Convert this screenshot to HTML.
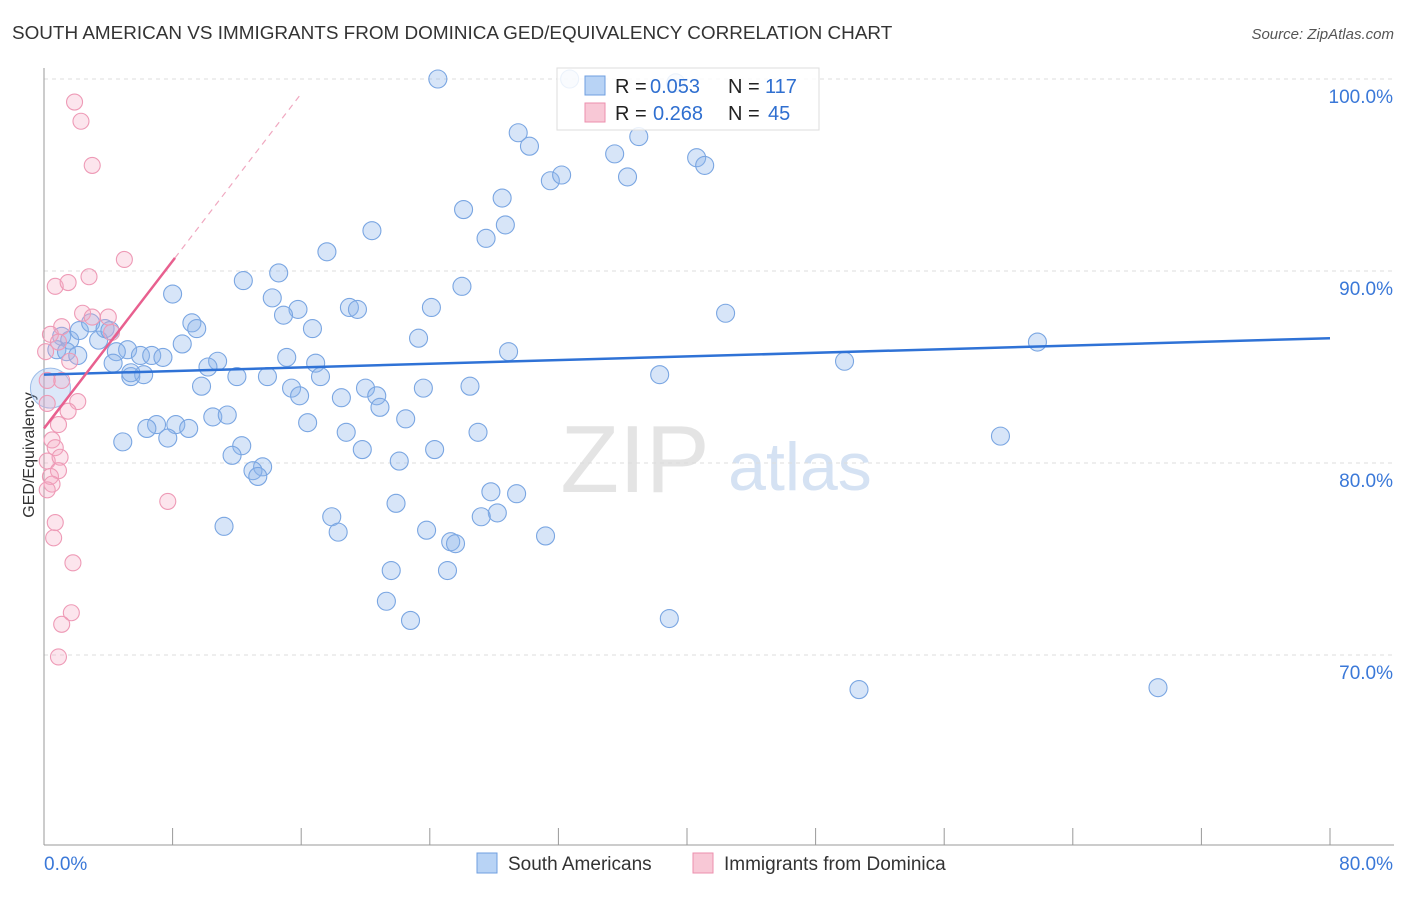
<!DOCTYPE html>
<html><head><meta charset="utf-8"><style>
body{margin:0;background:#fff;font-family:"Liberation Sans",sans-serif;}
svg text{font-family:"Liberation Sans",sans-serif;}
</style></head><body>
<svg id="chart" width="1406" height="892">
<text x="12" y="39" font-size="18.9" fill="#333">SOUTH AMERICAN VS IMMIGRANTS FROM DOMINICA GED/EQUIVALENCY CORRELATION CHART</text>
<text x="1394" y="39" font-size="15" fill="#555" font-style="italic" text-anchor="end">Source: ZipAtlas.com</text>
<text x="635" y="492" font-size="96" fill="#e4e4e4" font-family="Liberation Serif" text-anchor="middle">ZIP</text>
<text x="800" y="490" font-size="68" fill="#d5e2f3" text-anchor="middle">atlas</text>
<text transform="translate(34,455) rotate(-90)" font-size="16" fill="#333" text-anchor="middle">GED/Equivalency</text>
<g id="grid"></g><g id="marks"></g>
<g>
<rect x="557" y="68" width="262" height="62" fill="rgba(255,255,255,0.85)" stroke="#ddd"/>
<rect x="585" y="76" width="20" height="19" fill="#b8d3f5" stroke="#6f9fe0"/>
<rect x="585" y="103" width="20" height="19" fill="#f8c8d6" stroke="#ec8fae"/>
<text x="615" y="93" font-size="20" fill="#222">R =</text>
<text x="650" y="93" font-size="20" fill="#2f6fd0">0.053</text>
<text x="728" y="93" font-size="20" fill="#222">N =</text>
<text x="765" y="93" font-size="20" fill="#2f6fd0">117</text>
<text x="615" y="120" font-size="20" fill="#222">R =</text>
<text x="653" y="120" font-size="20" fill="#2f6fd0">0.268</text>
<text x="728" y="120" font-size="20" fill="#222">N =</text>
<text x="768" y="120" font-size="20" fill="#2f6fd0">45</text>
</g>
<g>
<rect x="477" y="853" width="20" height="20" fill="#b8d3f5" stroke="#6f9fe0"/>
<text x="508" y="870" font-size="19" fill="#333">South Americans</text>
<rect x="693" y="853" width="20" height="20" fill="#f8c8d6" stroke="#ec8fae"/>
<text x="724" y="870" font-size="19" fill="#333">Immigrants from Dominica</text>
</g>
</svg>
<script>
const yTicks=[100,90,80,70];
const xTickLabels=["0.0%","80.0%"];
const blueX=[24.5,32.7,39.3,29.5,30.2,35.5,37.0,40.6,41.1,31.5,32.2,36.3,26.1,28.5,28.7,27.5,20.4,17.6,12.4,14.6,14.2,8.0,26.0,19.0,19.5,15.8,14.9,24.1,16.7,9.2,9.5,42.4,23.3,8.6,5.2,4.5,6.0,6.7,7.4,10.8,10.2,15.1,16.9,28.9,49.8,61.8,1.1,1.6,2.2,2.9,3.4,3.8,4.1,0.8,1.4,2.1,4.3,5.4,6.2,5.4,12.0,13.9,9.8,15.4,15.9,17.2,20.0,20.7,23.6,26.5,38.3,18.5,20.9,10.5,11.4,7.0,6.4,8.2,9.0,7.7,4.9,16.4,18.8,22.5,12.3,11.7,13.6,13.0,13.3,19.8,22.1,24.3,27.0,59.5,27.8,29.4,28.2,27.2,21.9,17.9,18.3,11.2,23.8,25.3,25.6,31.2,21.6,25.1,21.3,22.8,38.9,50.7,69.3];
const blueY=[100.0,100.0,99.8,97.2,96.5,96.1,97.0,95.9,95.5,94.7,95.0,94.9,93.2,93.8,92.4,91.7,92.1,91.0,89.5,89.9,88.6,88.8,89.2,88.1,88.0,88.0,87.7,88.1,87.0,87.3,87.0,87.8,86.5,86.2,85.9,85.8,85.6,85.6,85.5,85.3,85.0,85.5,85.2,85.8,85.3,86.3,86.6,86.4,86.9,87.3,86.4,87.0,86.9,85.9,85.8,85.6,85.2,84.5,84.6,84.7,84.5,84.5,84.0,83.9,83.5,84.5,83.9,83.5,83.9,84.0,84.6,83.4,82.9,82.4,82.5,82.0,81.8,82.0,81.8,81.3,81.1,82.1,81.6,82.3,80.9,80.4,79.8,79.6,79.3,80.7,80.1,80.7,81.6,81.4,78.5,78.4,77.4,77.2,77.9,77.2,76.4,76.7,76.5,75.9,75.8,76.2,74.4,74.4,72.8,71.8,71.9,68.2,68.3];
const pinkX=[1.9,2.3,3.0,5.0,2.8,0.7,1.5,2.4,3.0,4.0,4.2,1.1,0.4,0.9,0.1,1.6,1.1,2.1,1.5,0.2,0.9,0.5,0.7,0.2,1.0,0.9,0.4,0.5,0.2,0.7,0.6,7.7,1.8,1.7,1.1,0.9,0.2];
const pinkY=[98.8,97.8,95.5,90.6,89.7,89.2,89.4,87.8,87.6,87.6,86.8,87.1,86.7,86.3,85.8,85.3,84.3,83.2,82.7,83.1,82.0,81.2,80.8,80.1,80.3,79.6,79.3,78.9,78.6,76.9,76.1,78.0,74.8,72.2,71.6,69.9,84.3];
const bigX=[0.4], bigY=[83.9];
const blueTrend=[84.6,86.5];
const pinkTrend=[81.8,1.09];
const X=v=>44+v/80*1286, Y=v=>79+(100-v)*19.2;
const NS="http://www.w3.org/2000/svg";
const grid=document.getElementById('grid'), marks=document.getElementById('marks');
function mk(tag,attrs,parent){const e=document.createElementNS(NS,tag);for(const k in attrs)e.setAttribute(k,attrs[k]);parent.appendChild(e);return e;}
yTicks.forEach(t=>{
 const l=mk('line',{x1:44,x2:1394,y1:Y(t),y2:Y(t),stroke:'#ddd','stroke-dasharray':'4,4'},grid);
 
 
 const tx=mk('text',{x:1393,y:Y(t)+24,'font-size':19,fill:'#3a78d8','text-anchor':'end'},grid);
 tx.textContent=t.toFixed(1)+'%';
 
 
});
mk('line',{x1:44,x2:44,y1:68,y2:845,stroke:'#999'},grid);
mk('line',{x1:44,x2:1394,y1:845,y2:845,stroke:'#999'},grid);
for(let i=0;i<=10;i++){
 const t=mk('line',{x1:X(i*8),x2:X(i*8),y1:828,y2:845,stroke:'#999'},grid);
 
 
}
const xl0=mk('text',{x:44,y:870,'font-size':19,fill:'#3a78d8'},grid);xl0.textContent=xTickLabels[0];


const xl1=mk('text',{x:1393,y:870,'font-size':19,fill:'#3a78d8','text-anchor':'end'},grid);xl1.textContent=xTickLabels[1];


bigX.forEach((x,i)=>{
 const c=mk('circle',{cx:X(x),cy:Y(bigY[i]),r:20,fill:'rgba(140,180,235,0.3)',stroke:'#9dbde8','stroke-width':1},marks);
 
 
});
blueX.forEach((x,i)=>{
 const c=mk('circle',{cx:X(x),cy:Y(blueY[i]),r:9,fill:'rgba(140,180,235,0.35)',stroke:'#7aa6e2','stroke-width':1.1},marks);
 
 
});
pinkX.forEach((x,i)=>{
 const c=mk('circle',{cx:X(x),cy:Y(pinkY[i]),r:8,fill:'rgba(245,170,195,0.3)',stroke:'#ee9ab6','stroke-width':1.1},marks);
 
 
});
const bt=mk('line',{x1:X(0),y1:Y(blueTrend[0]),x2:X(80),y2:Y(blueTrend[1]),stroke:'#2f72d6','stroke-width':2.5},marks);


const pt=mk('line',{x1:X(0),y1:Y(pinkTrend[0]),x2:X(8.15),y2:Y(pinkTrend[0]+pinkTrend[1]*8.15),stroke:'#e8608f','stroke-width':2.5},marks);


const pd=mk('line',{x1:X(8.15),y1:Y(pinkTrend[0]+pinkTrend[1]*8.15),x2:X(16),y2:Y(pinkTrend[0]+pinkTrend[1]*16),stroke:'#f0a8c0','stroke-width':1.2,'stroke-dasharray':'6,5'},marks);


</script>
</body></html>
